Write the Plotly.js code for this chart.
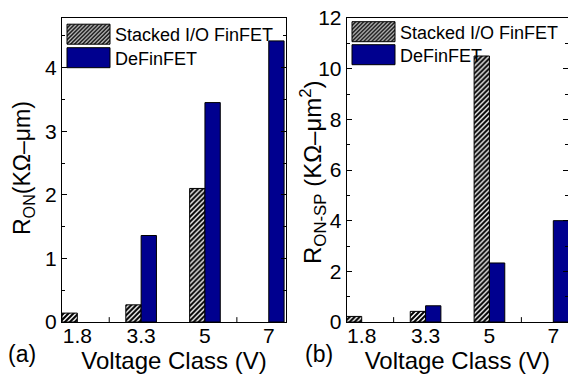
<!DOCTYPE html>
<html>
<head>
<meta charset="utf-8">
<script src="https://cdn.plot.ly/plotly-3.0.1.min.js"></script>
<style>
  html, body { margin: 0; padding: 0; background: #fff; }
  #chart { width: 568px; height: 377px; }
</style>
</head>
<body>
<div id="chart"></div>
<script>
// ---- data ----
const categories = ['1.8', '3.3', '5', '7'];
const seriesNames = ['Stacked I/O FinFET', 'DeFinFET'];
const stackedRon = [0.14, 0.27, 2.1, null];
const deFinRon = [null, 1.36, 3.45, 4.42];
const stackedRonSp = [0.22, 0.42, 10.5, null];
const deFinRonSp = [null, 0.64, 2.33, 4.0];

// ---- styles ----
const FONT = 'Liberation Sans, Arial, sans-serif';
const BLUE = '#00008f';
const hatch = { shape: '/', fgcolor: '#000', bgcolor: '#fff', size: 3.5, solidity: 0.6 };

function stackedTrace(y, xa, ya, lg) {
  return {
    type: 'bar', name: seriesNames[0], x: categories, y: y, xaxis: xa, yaxis: ya, legend: lg,
    marker: { color: '#fff', pattern: hatch, line: { color: '#000', width: 1 } }
  };
}
function deFinTrace(y, xa, ya, lg) {
  return {
    type: 'bar', name: seriesNames[1], x: categories, y: y, xaxis: xa, yaxis: ya, legend: lg,
    marker: { color: BLUE, line: { color: '#000', width: 1 } }
  };
}

const data = [
  stackedTrace(stackedRon, 'x', 'y', 'legend'),
  deFinTrace(deFinRon, 'x', 'y', 'legend2'),
  stackedTrace(stackedRonSp, 'x2', 'y2', 'legend3'),
  deFinTrace(deFinRonSp, 'x2', 'y2', 'legend4')
];

function xAxis(domain, range, anchor) {
  return {
    domain: domain, range: range, anchor: anchor, type: 'category',
    showline: true, linecolor: '#000', linewidth: 1, mirror: true,
    ticks: '', showgrid: false, zeroline: false,
    ticklabelstandoff: -5,
    tickfont: { family: FONT, size: 21, color: '#000' },
    title: { text: 'Voltage Class (V)', font: { family: FONT, size: 24, color: '#000' }, standoff: 0 },
    fixedrange: true
  };
}
function yAxis(range, dtick, minorDtick, anchor) {
  return {
    range: range, anchor: anchor, dtick: dtick,
    showline: true, linecolor: '#000', linewidth: 1, mirror: 'ticks',
    ticks: 'inside', ticklen: 5, tickcolor: '#000',
    minor: { dtick: minorDtick, ticks: 'inside', ticklen: 3, tickcolor: '#000', showgrid: false },
    showgrid: false, zeroline: false,
    tickfont: { family: FONT, size: 21, color: '#000' },
    fixedrange: true
  };
}

// one single-item legend per entry so each row sits where the reference has it
function legendAt(xPx, centerPx) {
  return {
    xanchor: 'left', yanchor: 'top', x: xPx / 568, y: (322 - (centerPx - 17)) / 304,
    bgcolor: 'rgba(0,0,0,0)', borderwidth: 0,
    font: { family: FONT, size: 18, color: '#000' },
    itemwidth: 43
  };
}

const layout = {
  width: 568, height: 377,
  margin: { l: 0, r: 0, t: 18, b: 55 },
  paper_bgcolor: '#fff', plot_bgcolor: '#fff',
  barmode: 'group', bargap: 0.52, bargroupgap: 0,
  showlegend: true,
  xaxis: xAxis([62 / 568, 286 / 568], [-0.24, 3.27], 'y'),
  yaxis: yAxis([0, 4.78], 1, 0.5, 'x'),
  xaxis2: xAxis([346.7 / 568, 1], [-0.235, 3.23], 'y2'),
  yaxis2: yAxis([0, 12], 2, 1, 'x2'),
  legend: legendAt(62, 33),
  legend2: legendAt(62, 56.5),
  legend3: legendAt(347, 30.5),
  legend4: legendAt(347, 53.5),
  annotations: [
    { xref: 'paper', yref: 'paper', x: 23 / 568, y: (322 - 168) / 304, xanchor: 'center', yanchor: 'middle',
      textangle: -90, showarrow: false,
      text: 'R<sub>ON</sub>(KΩ–μm)', font: { family: FONT, size: 23, color: '#000' } },
    { xref: 'paper', yref: 'paper', x: 313 / 568, y: (322 - 172) / 304, xanchor: 'center', yanchor: 'middle',
      textangle: -90, showarrow: false,
      text: 'R<sub>ON-SP</sub> (KΩ–μm<sup>2</sup>)', font: { family: FONT, size: 24, color: '#000' } },
    { xref: 'paper', yref: 'paper', x: 22 / 568, y: -32 / 304, xanchor: 'center', yanchor: 'middle',
      showarrow: false, text: '(a)', font: { family: FONT, size: 23, color: '#000' } },
    { xref: 'paper', yref: 'paper', x: 319 / 568, y: -32 / 304, xanchor: 'center', yanchor: 'middle',
      showarrow: false, text: '(b)', font: { family: FONT, size: 23, color: '#000' } }
  ],
  shapes: [0.5, 2.5].map(v => ({ type: 'line', xref: 'x', yref: 'y domain', x0: v, x1: v, y0: 0, y1: 0.016, line: { color: '#000', width: 1 } }))
    .concat([0.5, 2.5].map(v => ({ type: 'line', xref: 'x2', yref: 'y2 domain', x0: v, x1: v, y0: 0, y1: 0.016, line: { color: '#000', width: 1 } })))
};

Plotly.newPlot('chart', data, layout, { staticPlot: true, displayModeBar: false }).then(gd => {
  // enlarge legend swatches to match the reference's wide blocks
  gd.querySelectorAll('.legendpoints path').forEach(p => {
    p.setAttribute('d', 'M21.5,10H-21.5V-10H21.5Z');
  });
});
</script>
</body>
</html>
